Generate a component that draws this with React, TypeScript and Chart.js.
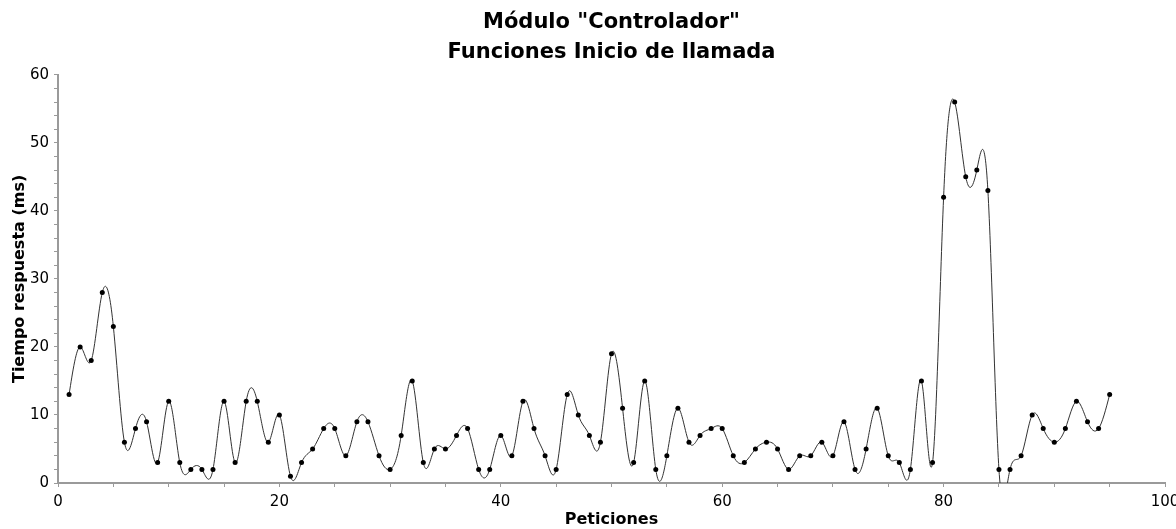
import React, { useEffect, useRef } from "react";
import { Chart, registerables } from "chart.js";

Chart.register(...registerables);

const titleLines = ['Módulo "Controlador"', "Funciones Inicio de llamada"];
const xTitle = "Peticiones";
const yTitle = "Tiempo respuesta (ms)";

const peticiones = [
  1, 2, 3, 4, 5, 6, 7, 8, 9, 10, 11, 12, 13, 14, 15, 16, 17, 18, 19, 20,
  21, 22, 23, 24, 25, 26, 27, 28, 29, 30, 31, 32, 33, 34, 35, 36, 37, 38, 39, 40,
  41, 42, 43, 44, 45, 46, 47, 48, 49, 50, 51, 52, 53, 54, 55, 56, 57, 58, 59, 60,
  61, 62, 63, 64, 65, 66, 67, 68, 69, 70, 71, 72, 73, 74, 75, 76, 77, 78, 79, 80,
  81, 82, 83, 84, 85, 86, 87, 88, 89, 90, 91, 92, 93, 94, 95,
];

const tiempos = [
  13, 20, 18, 28, 23, 6, 8, 9, 3, 12, 3, 2, 2, 2, 12, 3, 12, 12, 6, 10,
  1, 3, 5, 8, 8, 4, 9, 9, 4, 2, 7, 15, 3, 5, 5, 7, 8, 2, 2, 7,
  4, 12, 8, 4, 2, 13, 10, 7, 6, 19, 11, 3, 15, 2, 4, 11, 6, 7, 8, 8,
  4, 3, 5, 6, 5, 2, 4, 4, 6, 4, 9, 2, 5, 11, 4, 3, 2, 15, 3, 42,
  56, 45, 46, 43, 2, 2, 4, 10, 8, 6, 8, 12, 9, 8, 13,
];

const xMin = 0;
const xMax = 100;
const xMajor = 20;
const xMinor = 5;
const yMin = 0;
const yMax = 60;
const yMajor = 10;
const yMinor = 2;

// Natural cubic spline: sets the Bezier control points of Chart.js's own point elements
const naturalSplinePlugin = {
  id: "naturalSpline",
  beforeDatasetDraw(chart: any, args: any) {
    const meta = chart.getDatasetMeta(args.index);
    const line = meta.dataset;
    const pts = meta.data;
    const n = pts.length;
    if (!line || n < 3) return;
    const xs = pts.map((p: any) => p.x);
    const ys = pts.map((p: any) => p.y);
    const h: number[] = [];
    for (let i = 0; i < n - 1; i++) h.push(xs[i + 1] - xs[i]);
    const M = new Array(n).fill(0);
    const a: number[] = new Array(n).fill(0);
    const b: number[] = new Array(n).fill(1);
    const c: number[] = new Array(n).fill(0);
    const d: number[] = new Array(n).fill(0);
    for (let i = 1; i < n - 1; i++) {
      a[i] = h[i - 1];
      b[i] = 2 * (h[i - 1] + h[i]);
      c[i] = h[i];
      d[i] = 6 * ((ys[i + 1] - ys[i]) / h[i] - (ys[i] - ys[i - 1]) / h[i - 1]);
    }
    const cp: number[] = new Array(n).fill(0);
    const dp: number[] = new Array(n).fill(0);
    cp[0] = c[0] / b[0];
    dp[0] = d[0] / b[0];
    for (let i = 1; i < n; i++) {
      const m = b[i] - a[i] * cp[i - 1];
      cp[i] = c[i] / m;
      dp[i] = (d[i] - a[i] * dp[i - 1]) / m;
    }
    M[n - 1] = dp[n - 1];
    for (let i = n - 2; i >= 0; i--) M[i] = dp[i] - cp[i] * M[i + 1];
    const der: number[] = new Array(n).fill(0);
    for (let i = 0; i < n; i++) {
      if (i < n - 1) {
        der[i] = (ys[i + 1] - ys[i]) / h[i] - (h[i] * (2 * M[i] + M[i + 1])) / 6;
      } else {
        der[i] = (ys[i] - ys[i - 1]) / h[i - 1] + (h[i - 1] * (M[i - 1] + 2 * M[i])) / 6;
      }
    }
    for (let i = 0; i < n; i++) {
      const p = pts[i];
      const hp = i > 0 ? h[i - 1] : h[0];
      const hn = i < n - 1 ? h[i] : h[n - 2];
      p.cp1x = xs[i] - hp / 3;
      p.cp1y = ys[i] - (der[i] * hp) / 3;
      p.cp2x = xs[i] + hn / 3;
      p.cp2y = ys[i] + (der[i] * hn) / 3;
    }
    line._pointsUpdated = true;
    line._path = undefined;
  },
};

export default function App() {
  const ref = useRef<HTMLCanvasElement | null>(null);

  useEffect(() => {
    if (!ref.current) return;
    const FONT = "'DejaVu Sans', Verdana, sans-serif";
    const axisGray = "#9a9a9a";
    const chart = new Chart(ref.current, {
      type: "line",
      plugins: [naturalSplinePlugin],
      data: {
        datasets: [
          {
            data: peticiones.map((p, i) => ({ x: p, y: tiempos[i] })),
            borderColor: "#333333",
            borderWidth: 1,
            tension: 0.4,
            pointRadius: 2.5,
            pointBackgroundColor: "#000000",
            pointBorderWidth: 0,
            fill: false,
          },
        ],
      },
      options: {
        animation: false,
        responsive: false,
        maintainAspectRatio: false,
        layout: { padding: { left: 0, right: 11, top: 0, bottom: 0 } },
        plugins: {
          legend: { display: false },
          tooltip: { enabled: false },
          title: {
            display: true,
            fullSize: false,
            text: titleLines,
            color: "#000000",
            font: { family: FONT, size: 21, weight: "bold", lineHeight: 1.4 },
            padding: { top: 8, bottom: 8 },
          },
        },
        scales: {
          x: {
            type: "linear",
            min: xMin,
            max: xMax,
            border: { color: axisGray, width: 2 },
            grid: {
              drawOnChartArea: false,
              drawTicks: true,
              tickLength: 4,
              tickColor: axisGray,
            },
            ticks: {
              stepSize: xMinor,
              autoSkip: false,
              maxRotation: 0,
              color: "#000000",
              padding: 6,
              font: { family: FONT, size: 15 },
              callback: (v: any) => (Number(v) % xMajor === 0 ? String(v) : ""),
            },
            title: {
              display: true,
              text: xTitle,
              color: "#000000",
              font: { family: FONT, size: 16, weight: "bold" },
              padding: { top: 0, bottom: 0 },
            },
            afterFit: (s: any) => {
              s.height = 46;
              s.paddingRight = 0;
              s.paddingLeft = 0;
            },
          },
          y: {
            type: "linear",
            min: yMin,
            max: yMax,
            border: { color: axisGray, width: 2 },
            grid: {
              drawOnChartArea: false,
              drawTicks: true,
              tickLength: 4,
              tickColor: axisGray,
            },
            ticks: {
              stepSize: yMinor,
              autoSkip: false,
              color: "#000000",
              padding: 5,
              font: { family: FONT, size: 15 },
              callback: (v: any) => (Number(v) % yMajor === 0 ? String(v) : ""),
            },
            title: {
              display: true,
              text: yTitle,
              color: "#000000",
              font: { family: FONT, size: 16, weight: "bold" },
              padding: { top: 10, bottom: 0 },
            },
            afterFit: (s: any) => {
              s.width = 58;
              s.paddingTop = 0;
              s.paddingBottom = 0;
            },
          },
        },
      },
    });
    return () => chart.destroy();
  }, []);

  return (
    <div style={{ position: "fixed", left: 0, top: 0, width: 1176, height: 529, background: "#ffffff" }}>
      <canvas ref={ref} width={1176} height={529} style={{ display: "block", width: 1176, height: 529 }} />
    </div>
  );
}
